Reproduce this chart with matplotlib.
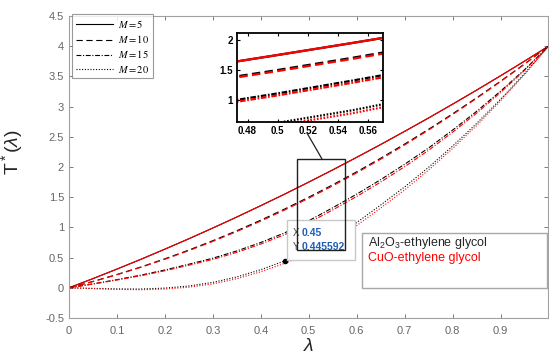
import matplotlib
matplotlib.use("Agg")
import matplotlib.pyplot as plt
from matplotlib.patches import Rectangle
from matplotlib.lines import Line2D
from matplotlib.font_manager import FontProperties

plt.rcParams['font.family'] = ['Liberation Sans', 'DejaVu Sans']
plt.rcParams['mathtext.fontset'] = 'custom'
plt.rcParams['mathtext.rm'] = 'Liberation Sans'
plt.rcParams['mathtext.it'] = 'Liberation Sans:italic'
plt.rcParams['lines.scale_dashes'] = False

# values
lam = [0, 0.05, 0.1, 0.15, 0.2, 0.25, 0.3, 0.35, 0.4, 0.45, 0.5,
       0.55, 0.6, 0.65, 0.7, 0.75, 0.8, 0.85, 0.9, 0.95, 1.0]

# Al2O3-ethylene glycol (black)
al_m5 = [0, 0.152, 0.31, 0.472, 0.64, 0.812, 0.99, 1.172, 1.36, 1.552, 1.75,
         1.952, 2.16, 2.372, 2.59, 2.812, 3.04, 3.272, 3.51, 3.752, 4.0]
al_m10 = [0, 0.105, 0.22, 0.345, 0.48, 0.625, 0.78, 0.945, 1.12, 1.305, 1.50,
          1.705, 1.92, 2.145, 2.38, 2.625, 2.88, 3.145, 3.42, 3.705, 4.0]
al_m15 = [0, 0.065, 0.135, 0.21, 0.295, 0.39, 0.49, 0.61, 0.75, 0.91, 1.11,
          1.325, 1.55, 1.79, 2.045, 2.315, 2.61, 2.92, 3.255, 3.61, 4.0]
al_m20 = [0, -0.01, -0.018, -0.02, -0.005, 0.03, 0.09, 0.18, 0.30, 0.4456, 0.62,
          0.83, 1.08, 1.37, 1.67, 1.995, 2.345, 2.72, 3.12, 3.545, 4.0]

# CuO-ethylene glycol (red)
cu_m5 = [0, 0.152, 0.31, 0.472, 0.64, 0.812, 0.99, 1.172, 1.36, 1.552, 1.75,
         1.952, 2.16, 2.372, 2.59, 2.812, 3.04, 3.272, 3.51, 3.752, 4.0]
cu_m10 = [0, 0.103, 0.216, 0.339, 0.472, 0.615, 0.768, 0.931, 1.104, 1.288, 1.482,
          1.687, 1.902, 2.128, 2.364, 2.611, 2.868, 3.135, 3.413, 3.701, 4.0]
cu_m15 = [0, 0.062, 0.129, 0.2, 0.282, 0.374, 0.47, 0.587, 0.724, 0.88, 1.077,
          1.289, 1.512, 1.75, 2.005, 2.277, 2.575, 2.89, 3.233, 3.598, 4.0]
cu_m20 = [0, -0.014, -0.026, -0.032, -0.021, 0.01, 0.065, 0.15, 0.265, 0.4056, 0.575,
          0.78, 1.03, 1.32, 1.62, 1.95, 2.305, 2.685, 3.095, 3.53, 4.0]

m_labels = ['$M = 5$', '$M = 10$', '$M = 15$', '$M = 20$']
tip_x, tip_y = 0.45, 0.445592

xticks = [0, 0.1, 0.2, 0.3, 0.4, 0.5, 0.6, 0.7, 0.8, 0.9, 1.0]
xtick_labels = ['0', '0.1', '0.2', '0.3', '0.4', '0.5', '0.6', '0.7', '0.8', '0.9', '']
yticks = [-0.5, 0, 0.5, 1, 1.5, 2, 2.5, 3, 3.5, 4, 4.5]
ytick_labels = ['-0.5', '0', '0.5', '1', '1.5', '2', '2.5', '3', '3.5', '4', '4.5']
inset_xticks = [0.48, 0.5, 0.52, 0.54, 0.56]
inset_xlabels = ['0.48', '0.5', '0.52', '0.54', '0.56']
inset_yticks = [1, 1.5, 2]
inset_ylabels = ['1', '1.5', '2']

W, H = 549, 358
def px(x, y):
    return (x / W, 1 - y / H)

styles = [None, (4.5, 2.6), (3.5, 1.2, 0.8, 1.2), (0.8, 1.2)]
black = [al_m5, al_m10, al_m15, al_m20]
red = [cu_m5, cu_m10, cu_m15, cu_m20]
axc = '#666666'

fig = plt.figure(figsize=(W / 100, H / 100), dpi=100)
ax = fig.add_axes([69 / W, 1 - 318 / H, 480 / W - 0.001, 302 / H])

handles = []
for dash, yb, yr in zip(styles, black, red):
    lb, = ax.plot(lam, yb, color='black', lw=0.8)
    lr, = ax.plot(lam, yr, color='red', lw=0.8)
    h = Line2D([], [], color='black', lw=0.8)
    if dash is not None:
        lb.set_dashes(dash)
        lr.set_dashes(dash)
        h.set_dashes(dash)
    handles.append(h)

ax.plot([tip_x], [tip_y], 'o', color='black', ms=3, zorder=6)

ax.set_xlim(0, 1)
ax.set_ylim(-0.5, 4.5)
ax.set_xticks(xticks)
ax.set_xticklabels(xtick_labels)
ax.set_yticks(yticks)
ax.set_yticklabels(ytick_labels)
ax.tick_params(direction='in', length=3, width=0.6, colors=axc, labelsize=8,
               top=True, right=True)
ax.tick_params(axis='x', pad=6)
for s in ax.spines.values():
    s.set_color('#a0a0a0')
    s.set_linewidth(0.8)

ax.set_xlabel('$\\lambda$', fontsize=14, color='#262626', va='center')
ax.xaxis.set_label_coords(0.5, -0.093)
ax.set_ylabel('T$^*$($\\lambda$)', fontsize=14, color='#262626')
ax.yaxis.set_label_coords(-0.092, 0.55)

leg_font = FontProperties(family='Liberation Serif', size=7.5, math_fontfamily='stix')
leg = ax.legend(handles, m_labels, loc='upper left', bbox_to_anchor=(0.006, 1.005),
                prop=leg_font, frameon=True, fancybox=False, handlelength=3.6,
                handletextpad=0.5, borderpad=0.35, labelspacing=0.3, borderaxespad=0)
leg.get_frame().set_edgecolor('#808080')
leg.get_frame().set_linewidth(0.8)

# inset
ins = fig.add_axes([237 / W, 1 - 122 / H, 146 / W, 89 / H])
ins_styles = [None, (6, 3.2), (4, 1.2, 1.2, 1.2), (1.2, 1.2)]
for dash, yb, yr in zip(ins_styles, black, red):
    lb, = ins.plot(lam, yb, color='black', lw=1.6)
    lr, = ins.plot(lam, yr, color='red', lw=1.6)
    if dash is not None:
        lb.set_dashes(dash)
        lr.set_dashes(dash)
ins.set_xlim(0.473, 0.57)
ins.set_ylim(0.633, 2.117)
ins.set_xticks(inset_xticks)
ins.set_xticklabels(inset_xlabels)
ins.set_yticks(inset_yticks)
ins.set_yticklabels(inset_ylabels)
ins.tick_params(direction='in', length=2.5, width=0.8, labelsize=7, top=True, right=True, pad=3)
for t in ins.get_xticklabels() + ins.get_yticklabels():
    t.set_fontweight('bold')
for s in ins.spines.values():
    s.set_linewidth(1.3)

# data tip
x0, y0 = px(287, 220)
x1, y1 = px(355, 260)
fig.add_artist(Rectangle((x0, y1), x1 - x0, y0 - y1, transform=fig.transFigure,
                         facecolor='white', edgecolor='#c8c8c8', lw=1, zorder=4))
tx, ty = px(293, 233)
fig.text(tx, ty, 'X', fontsize=7, color='#404040', va='center', zorder=5)
fig.text(tx + 9 / W, ty, f'{tip_x:g}', fontsize=7.5, color='#1f5fb8',
         fontweight='bold', va='center', zorder=5)
tx, ty = px(293, 247)
fig.text(tx, ty, 'Y', fontsize=7, color='#404040', va='center', zorder=5)
fig.text(tx + 9 / W, ty, f'{tip_y:g}', fontsize=7.5, color='#1f5fb8',
         fontweight='bold', va='center', zorder=5)

# zoom rectangle and connector
fig.add_artist(Rectangle((0.475, 0.63), 0.1, 1.51, transform=ax.transData,
                         facecolor='none', edgecolor='#202020', lw=1, zorder=6))
fig.add_artist(Line2D([307 / W, 322 / W], [1 - 133 / H, 1 - 159 / H],
                      transform=fig.transFigure, color='#202020', lw=0.9, zorder=6))

# nanofluid legend box
x0, y0 = px(362, 233)
x1, y1 = px(547, 288)
fig.add_artist(Rectangle((x0, y1), x1 - x0, y0 - y1, transform=fig.transFigure,
                         facecolor='white', edgecolor='#a8a8a8', lw=1, zorder=4))
tx, ty = px(368, 243)
fig.text(tx, ty, 'Al$_2$O$_3$-ethylene glycol', fontsize=9, color='#262626',
         va='center', zorder=5)
tx, ty = px(368, 258)
fig.text(tx, ty, 'CuO-ethylene glycol', fontsize=9, color='red', va='center', zorder=5)

fig.savefig('out.png', dpi=100)
